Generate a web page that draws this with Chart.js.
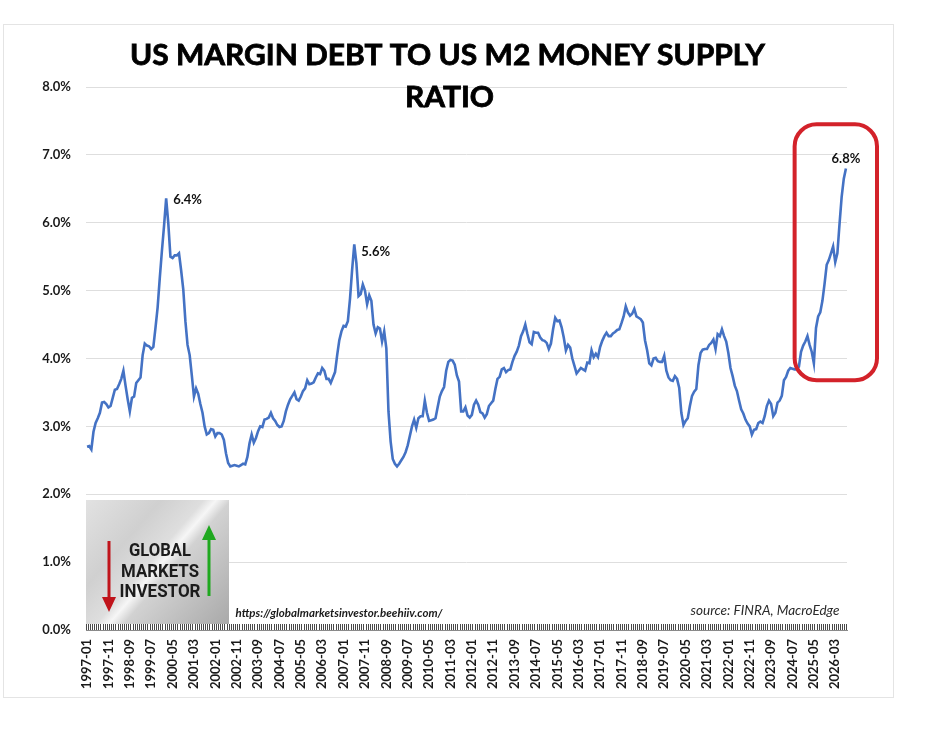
<!DOCTYPE html>
<html>
<head>
<meta charset="utf-8">
<script src="https://cdn.jsdelivr.net/npm/chart.js@4.4.1/dist/chart.umd.min.js"></script>
<style>
  body { margin: 0; background: #fff; overflow: hidden; }
  #frame { position: absolute; left: 3px; top: 24px; width: 889px; height: 672px; border: 1px solid #e4e4e4; }
  #c { position: absolute; left: 0; top: 0; }
</style>
</head>
<body>
<div id="frame"></div>
<canvas id="c" width="933" height="743"></canvas>
<script>
// monthly ratio of US margin debt to M2, in percent, starting 1997-01
const startYear = 1997;
const startMonth = 1;
const ratio = [
  2.70, 2.71, 2.66, 2.92, 3.05, 3.12, 3.20, 3.35, 3.36, 3.33,
  3.28, 3.30, 3.42, 3.54, 3.55, 3.62, 3.70, 3.82, 3.60, 3.40,
  3.22, 3.42, 3.44, 3.64, 3.68, 3.72, 4.05, 4.22, 4.19, 4.18,
  4.14, 4.17, 4.45, 4.75, 5.18, 5.58, 5.95, 6.36, 5.99, 5.50,
  5.48, 5.52, 5.52, 5.55, 5.30, 5.02, 4.55, 4.20, 4.05, 3.75,
  3.44, 3.56, 3.48, 3.33, 3.20, 3.00, 2.88, 2.90, 2.96, 2.95,
  2.85, 2.90, 2.90, 2.88, 2.80, 2.60, 2.46, 2.41, 2.42, 2.43,
  2.42, 2.41, 2.43, 2.45, 2.44, 2.55, 2.75, 2.88, 2.76, 2.83,
  2.93, 3.00, 2.99, 3.10, 3.11, 3.13, 3.20, 3.12, 3.08, 3.02,
  2.99, 3.00, 3.08, 3.22, 3.32, 3.40, 3.45, 3.50, 3.40, 3.38,
  3.44, 3.52, 3.56, 3.68, 3.62, 3.63, 3.65, 3.72, 3.78, 3.77,
  3.86, 3.82, 3.70, 3.70, 3.64, 3.72, 3.80, 4.05, 4.27, 4.40,
  4.48, 4.47, 4.55, 4.88, 5.31, 5.68, 5.40, 4.92, 4.95, 5.09,
  5.00, 4.80, 4.93, 4.85, 4.50, 4.37, 4.46, 4.44, 4.25, 4.40,
  4.15, 3.22, 2.78, 2.52, 2.45, 2.41, 2.45, 2.50, 2.55, 2.62,
  2.72, 2.86, 3.00, 3.10, 2.98, 3.12, 3.15, 3.15, 3.38, 3.20,
  3.08, 3.09, 3.10, 3.12, 3.28, 3.44, 3.52, 3.58, 3.82, 3.95,
  3.98, 3.97, 3.91, 3.75, 3.66, 3.22, 3.22, 3.28, 3.16, 3.13,
  3.17, 3.32, 3.38, 3.32, 3.21, 3.19, 3.13, 3.18, 3.30, 3.34,
  3.38, 3.55, 3.70, 3.73, 3.84, 3.86, 3.80, 3.83, 3.84, 3.95,
  4.04, 4.10, 4.19, 4.33, 4.40, 4.50, 4.36, 4.24, 4.21, 4.39,
  4.38, 4.38, 4.31, 4.27, 4.26, 4.23, 4.14, 4.22, 4.43, 4.60,
  4.55, 4.56, 4.46, 4.31, 4.12, 4.20, 4.16, 4.00, 3.89, 3.78,
  3.82, 3.86, 3.84, 3.82, 3.94, 3.93, 4.12, 4.02, 4.07, 4.02,
  4.17, 4.26, 4.33, 4.38, 4.33, 4.33, 4.37, 4.39, 4.42, 4.43,
  4.52, 4.62, 4.77, 4.68, 4.63, 4.66, 4.73, 4.62, 4.60, 4.58,
  4.53, 4.27, 4.12, 3.93, 3.90, 4.00, 4.01, 3.96, 3.95, 3.95,
  4.04, 3.82, 3.72, 3.68, 3.67, 3.74, 3.70, 3.57, 3.20, 3.02,
  3.08, 3.12, 3.30, 3.45, 3.51, 3.55, 3.90, 4.08, 4.13, 4.14,
  4.14, 4.20, 4.23, 4.28, 4.14, 4.36, 4.33, 4.43, 4.33, 4.25,
  4.08, 3.86, 3.74, 3.60, 3.52, 3.38, 3.25, 3.19, 3.10, 3.04,
  3.00, 2.88, 2.95, 2.96, 3.05, 3.07, 3.05, 3.15, 3.30, 3.38,
  3.33, 3.15, 3.20, 3.35, 3.38, 3.45, 3.68, 3.73, 3.82, 3.86,
  3.85, 3.84, 3.84, 3.88, 4.10, 4.19, 4.25, 4.33, 4.20, 4.10,
  3.93, 4.45, 4.62, 4.68, 4.85, 5.10, 5.38, 5.45, 5.55, 5.65,
  5.42, 5.55, 5.98, 6.38, 6.65, 6.80
];
// peaks that carry a value label
const peakIndex = [37, 125, 355];
const peakText = ["6.4%", "5.6%", "6.8%"];
const labelEvery = 10;

const months = [];
for (let i = 0; i < ratio.length; i++) {
  const m = startMonth - 1 + i;
  const y = startYear + Math.floor(m / 12);
  months.push(y + "-" + String((m % 12) + 1).padStart(2, "0"));
}

function fitText(ctx, text, cx, baseline, targetW, font, color, heavy) {
  ctx.save();
  ctx.font = font;
  ctx.fillStyle = color;
  ctx.textBaseline = "alphabetic";
  ctx.textAlign = "left";
  const w = ctx.measureText(text).width;
  const sx = targetW / w;
  ctx.translate(cx - targetW / 2, baseline);
  ctx.scale(sx, 1);
  ctx.fillText(text, 0, 0);
  if (heavy) {
    ctx.strokeStyle = color;
    ctx.lineWidth = heavy;
    ctx.strokeText(text, 0, 0);
  }
  ctx.restore();
}

function arrow(ctx, x, yFrom, yTo, color) {
  const dir = yTo > yFrom ? 1 : -1;
  ctx.save();
  ctx.strokeStyle = color;
  ctx.fillStyle = color;
  ctx.lineWidth = 3;
  ctx.beginPath();
  ctx.moveTo(x, yFrom);
  ctx.lineTo(x, yTo - dir * 12);
  ctx.stroke();
  ctx.beginPath();
  ctx.moveTo(x - 7, yTo - dir * 15);
  ctx.lineTo(x + 7, yTo - dir * 15);
  ctx.lineTo(x, yTo);
  ctx.closePath();
  ctx.fill();
  ctx.restore();
}

const decor = {
  id: "decor",
  afterDatasetsDraw(chart) {
    const ctx = chart.ctx, ca = chart.chartArea;
    const xs = chart.scales.x, ys = chart.scales.y;
    const pts = chart.getDatasetMeta(0).data;

    // peak labels
    ctx.save();
    ctx.font = "bold 13px Lato";
    ctx.fillStyle = "#111";
    peakIndex.forEach((idx, k) => {
      const p = pts[idx];
      if (k === 2) {
        ctx.textAlign = "center";
        ctx.fillText(peakText[k], p.x, p.y - 5);
      } else {
        ctx.textAlign = "left";
        ctx.fillText(peakText[k], p.x + 7, p.y + (k === 0 ? 6 : 12));
      }
    });
    ctx.restore();

    // red highlight around the latest run-up
    const left = xs.getPixelForValue(331);
    const right = ca.right + 30;
    const top = ys.getPixelForValue(7.45);
    const bottom = ys.getPixelForValue(3.68);
    ctx.save();
    ctx.strokeStyle = "#d3222a";
    ctx.lineWidth = 4;
    ctx.beginPath();
    ctx.roundRect(left, top, right - left, bottom - top, 22);
    ctx.stroke();
    ctx.restore();

    // logo box
    const lx = ca.left, ly = ca.bottom - 130, lw = 143, lh = 124;
    ctx.save();
    const g = ctx.createLinearGradient(lx, ly, lx + lw, ly + lh);
    g.addColorStop(0, "#e2e2e2");
    g.addColorStop(0.3, "#d0d0d0");
    g.addColorStop(0.47, "#dedede");
    g.addColorStop(0.52, "#f6f6f6");
    g.addColorStop(0.58, "#d2d2d2");
    g.addColorStop(1, "#a9a9a9");
    ctx.fillStyle = g;
    ctx.fillRect(lx, ly, lw, lh);
    ctx.restore();
    fitText(ctx, "GLOBAL", lx + 74, ly + 56, 62, "bold 19px Roboto", "#1c1c1c");
    fitText(ctx, "MARKETS", lx + 74, ly + 77, 78, "bold 19px Roboto", "#1c1c1c");
    fitText(ctx, "INVESTOR", lx + 74, ly + 97, 81, "bold 19px Roboto", "#1c1c1c");
    arrow(ctx, lx + 23, ly + 41, ly + 112, "#c0141b");
    arrow(ctx, lx + 123, ly + 96, ly + 25, "#1fa81f");

    // url and source
    fitText(ctx, "https://globalmarketsinvestor.beehiiv.com/", ca.left + 253, ca.bottom - 13, 207, "italic bold 12px Lato", "#1a1a1a");
    fitText(ctx, "source: FINRA, MacroEdge", ca.right - 82, ca.bottom - 15, 149, "italic 13px Lato", "#2a2a2a");
  },
  afterDraw(chart) {
    const ctx = chart.ctx, ca = chart.chartArea, xs = chart.scales.x;
    // dense month tick marks just inside the axis
    const step = (xs.getPixelForValue(ratio.length - 1) - xs.getPixelForValue(0)) / (ratio.length - 1);
    const start = xs.getPixelForValue(0) - step / 2;
    ctx.save();
    ctx.fillStyle = "#4a4a4a";
    for (let i = 0; i <= ratio.length; i++) {
      ctx.fillRect(Math.floor(start + i * step), Math.round(ca.bottom) - 6, 1, 6);
    }
    ctx.restore();

    fitText(ctx, "US MARGIN DEBT TO US M2 MONEY SUPPLY", 447.5, 65, 635, "bold 29px Lato", "#000", 0.8);
    fitText(ctx, "RATIO", 449.5, 107, 89, "bold 29px Lato", "#000", 0.8);
  }
};

new Chart(document.getElementById("c"), {
  type: "line",
  data: {
    labels: months,
    datasets: [{
      data: ratio,
      borderColor: "#4472c4",
      borderWidth: 2.6,
      pointRadius: 0,
      tension: 0,
      fill: false
    }]
  },
  options: {
    responsive: false,
    animation: false,
    devicePixelRatio: 1,
    layout: { padding: { left: 0, right: 86, top: 87, bottom: 0 } },
    plugins: { legend: { display: false }, tooltip: { enabled: false }, title: { display: false } },
    scales: {
      x: {
        offset: true,
        grid: {
          display: true,
          offset: true,
          drawOnChartArea: false,
          drawTicks: true,
          tickLength: -6,
          color: "#4a4a4a",
          lineWidth: 1
        },
        border: { display: true, color: "#8a8a8a" },
        afterFit: (s) => { s.height = 113; },
        ticks: {
          autoSkip: false,
          minRotation: 90,
          maxRotation: 90,
          padding: 15,
          color: "#1a1a1a",
          font: { family: "Lato", weight: "bold", size: 13 },
          callback: function (v, i) { return i % labelEvery === 0 ? months[i] : ""; }
        }
      },
      y: {
        min: 0,
        max: 8,
        grid: { color: "#dedede", lineWidth: 1, drawTicks: false },
        border: { display: false },
        afterFit: (s) => { s.width = 86; },
        ticks: {
          stepSize: 1,
          padding: 15,
          color: "#1a1a1a",
          font: { family: "Lato", weight: "bold", size: 13 },
          callback: (v) => v.toFixed(1) + "%"
        }
      }
    }
  },
  plugins: [decor]
});
</script>
</body>
</html>
